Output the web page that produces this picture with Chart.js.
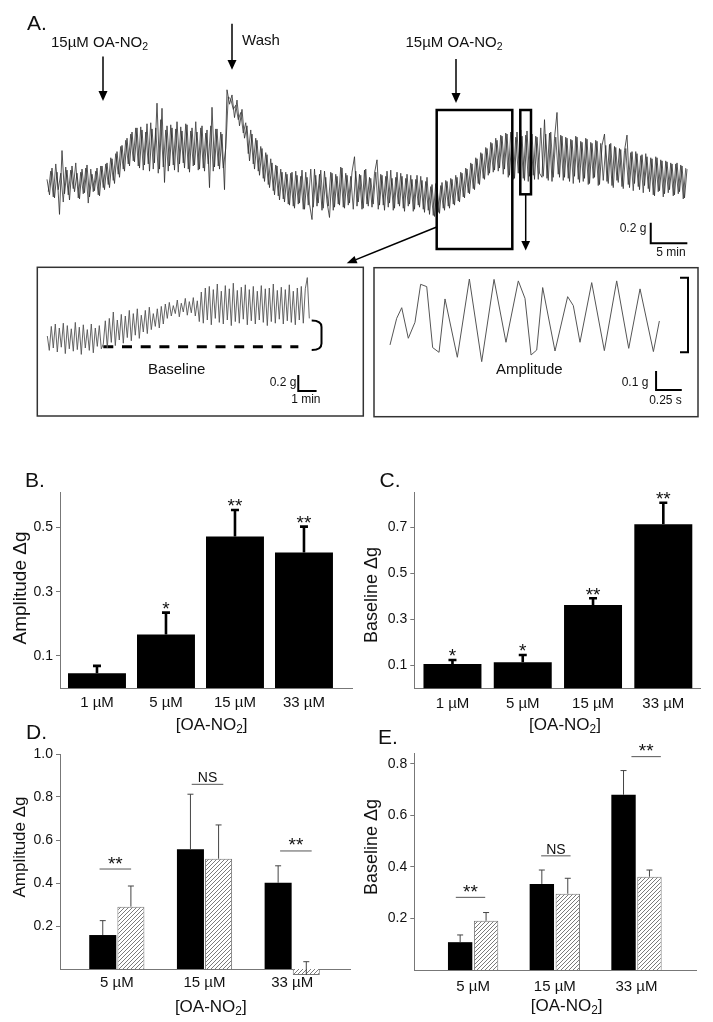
<!DOCTYPE html>
<html><head><meta charset="utf-8">
<script src="https://cdn.jsdelivr.net/npm/chart.js@4.4.0/dist/chart.umd.min.js"></script>
<style>
html,body{margin:0;padding:0;background:#fff;}
body{width:713px;height:1022px;position:relative;overflow:hidden;font-family:"Liberation Sans",Arial,sans-serif;color:#111;}
canvas{position:absolute;}
svg{position:absolute;left:0;top:0;}
.t{position:absolute;white-space:nowrap;line-height:1;transform:translate(-50%,-50%);}
.r{transform:translate(-50%,-50%) rotate(-90deg);}
sub{font-size:70%;vertical-align:-0.3em;line-height:0;}
</style></head><body>
<canvas id="cA" width="660" height="180" style="left:40px;top:80px"></canvas>
<canvas id="cI1" width="325" height="148" style="left:38px;top:268px"></canvas>
<canvas id="cI2" width="324" height="149" style="left:374px;top:268px"></canvas>
<canvas id="cB" width="360" height="255" style="left:0px;top:475px"></canvas>
<canvas id="cC" width="358" height="255" style="left:355px;top:475px"></canvas>
<canvas id="cD" width="360" height="282" style="left:0px;top:740px"></canvas>
<canvas id="cE" width="358" height="282" style="left:355px;top:740px"></canvas>

<svg width="713" height="1022" viewBox="0 0 713 1022">
 <g fill="none" stroke="#000">
  <rect x="436.7" y="110" width="75.6" height="139" stroke-width="2.5"/>
  <rect x="520.3" y="110" width="10.7" height="84.3" stroke-width="2.5"/>
  <rect x="37.3" y="267.3" width="326" height="148.7" stroke-width="1.5" stroke="#333"/>
  <rect x="374" y="267.7" width="324" height="149" stroke-width="1.5" stroke="#333"/>
  <line x1="103" y1="56.5" x2="103" y2="92" stroke-width="1.5"/>
  <line x1="232" y1="23.7" x2="232" y2="61" stroke-width="1.5"/>
  <line x1="456" y1="59" x2="456" y2="94" stroke-width="1.5"/>
  <line x1="525.7" y1="194.3" x2="525.7" y2="242" stroke-width="1.5"/>
  <line x1="436.7" y1="227" x2="356" y2="259.6" stroke-width="1.5"/>
  <path d="M311.7 320.5 Q321.5 320.5 321.5 327 L321.5 343.5 Q321.5 350 311.7 350" stroke-width="2"/>
  <path d="M680 277.7 H688 V352.3 H680" stroke-width="2"/>
 </g>
 <g fill="#000">
  <polygon points="98.5,91 107.5,91 103,101"/>
  <polygon points="227.5,60 236.5,60 232,69.7"/>
  <polygon points="451.5,93 460.5,93 456,103"/>
  <polygon points="521.3,241 530.1,241 525.7,250.5"/>
  <polygon points="346.7,263.3 357.5,263.3 354.5,255.9"/>
 </g>
</svg>

<div class="t" style="left:37px;top:22px;font-size:21px">A.</div>
<div class="t" style="left:99.5px;top:41px;font-size:15px">15µM OA-NO<sub>2</sub></div>
<div class="t" style="left:261px;top:38.5px;font-size:15px">Wash</div>
<div class="t" style="left:454px;top:41px;font-size:15px">15µM OA-NO<sub>2</sub></div>
<div class="t" style="left:633px;top:228px;font-size:12px">0.2 g</div>
<div class="t" style="left:671px;top:252px;font-size:12px">5 min</div>
<div class="t" style="left:176.7px;top:368.3px;font-size:15px">Baseline</div>
<div class="t" style="left:283px;top:381.7px;font-size:12px">0.2 g</div>
<div class="t" style="left:305.8px;top:399px;font-size:12px">1 min</div>
<div class="t" style="left:529.3px;top:367.7px;font-size:15px">Amplitude</div>
<div class="t" style="left:635px;top:381.7px;font-size:12px">0.1 g</div>
<div class="t" style="left:665.5px;top:399.5px;font-size:12px">0.25 s</div>

<div class="t" style="left:35px;top:479px;font-size:21px">B.</div>
<div class="t" style="left:390px;top:479px;font-size:21px">C.</div>
<div class="t" style="left:36.5px;top:730.5px;font-size:21px">D.</div>
<div class="t" style="left:388px;top:736px;font-size:21px">E.</div>
<div class="t r" style="left:19px;top:587.5px;font-size:19px">Amplitude Δg</div>
<div class="t r" style="left:370.5px;top:595px;font-size:18px">Baseline Δg</div>
<div class="t r" style="left:19px;top:846.7px;font-size:17px">Amplitude Δg</div>
<div class="t r" style="left:371px;top:846.5px;font-size:18px">Baseline Δg</div>
<div class="t" style="left:211.7px;top:724px;font-size:17px">[OA-NO<sub>2</sub>]</div>
<div class="t" style="left:565px;top:724px;font-size:17px">[OA-NO<sub>2</sub>]</div>
<div class="t" style="left:210.8px;top:1006px;font-size:17px">[OA-NO<sub>2</sub>]</div>
<div class="t" style="left:566.7px;top:1005px;font-size:17px">[OA-NO<sub>2</sub>]</div>

<script>
// ---------- data ----------
const concBC = ['1 µM', '5 µM', '15 µM', '33 µM'];
const ampB = [0.046, 0.167, 0.472, 0.422];
const ampBsem = [0.023, 0.068, 0.083, 0.081];
const ampBsig = ['', '*', '**', '**'];
const yTicksB = [0.1, 0.3, 0.5];

const baseC = [0.105, 0.113, 0.363, 0.714];
const baseCsem = [0.018, 0.032, 0.029, 0.094];
const baseCsig = ['*', '*', '**', '**'];
const yTicksC = [0.1, 0.3, 0.5, 0.7];

const concDE = ['5 µM', '15 µM', '33 µM'];
const ampDctl = [0.158, 0.557, 0.401];
const ampDctlSem = [0.067, 0.256, 0.079];
const ampDtrt = [0.290, 0.513, -0.028];
const ampDtrtSem = [0.096, 0.157, 0.062];
const sigD = ['**', 'NS', '**'];
const yTicksD = [0.2, 0.4, 0.6, 0.8, 1.0];

const baseEctl = [0.108, 0.334, 0.680];
const baseEctlSem = [0.028, 0.054, 0.094];
const baseEtrt = [0.191, 0.296, 0.362];
const baseEtrtSem = [0.032, 0.060, 0.026];
const sigE = ['**', 'NS', '**'];
const yTicksE = [0.2, 0.4, 0.6, 0.8];

// force trace (g), sampled every sampleMinMain minutes (two interleaved read-outs)
const sampleMinMain = 0.3415;
const traceMain = [
 0.20,0.05,0.31,0.02,0.27,-0.14,0.48,0.06,0.29,0.00,0.33,0.08,0.26,0.01,0.30,0.07,0.34,0.03,0.25,0.09,0.31,0.04,
 0.33,0.10,0.36,0.12,0.40,0.16,0.47,0.22,0.53,0.28,0.60,0.33,0.66,0.37,
 0.70,0.31,0.68,0.34,0.74,0.28,0.69,0.36,0.94,0.30,0.89,0.17,0.72,0.33,0.70,0.29,0.76,0.35,0.67,0.31,0.73,0.27,0.70,0.34,0.66,0.30,0.72,0.28,0.68,0.12,0.90,0.32,0.69,0.30,0.64,
 0.10,
 1.07,0.93,1.02,0.80,0.97,0.72,0.88,0.60,
 0.72,0.38,0.64,0.30,0.58,0.24,0.50,0.18,0.44,0.12,0.36,0.05,0.33,0.00,0.27,-0.02,0.25,
 -0.05,0.27,-0.08,0.24,-0.03,0.29,-0.09,0.22,-0.04,-0.19,0.30,-0.06,0.25,-0.10,0.28,-0.02,-0.17,0.26,-0.07,0.23,
 -0.05,0.31,-0.08,0.24,-0.03,0.27,0.42,-0.06,0.25,-0.09,0.29,-0.04,0.22,-0.07,0.26,0.39,-0.05,0.24,-0.10,0.28,
 -0.03,0.21,-0.08,0.27,-0.06,0.23,-0.11,0.25,-0.04,0.20,-0.09,0.24,-0.07,0.19,-0.12,0.22,
 -0.14,0.15,-0.16,0.12,-0.13,
 0.17,-0.10,0.18,-0.08,0.20,-0.05,0.22,-0.02,0.26,0.02,0.30,0.06,0.35,0.10,0.40,0.15,0.45,0.20,0.50,0.26,0.55,0.29,0.58,0.31,0.62,0.30,
 0.64,0.24,0.63,0.21,0.66,0.25,0.62,0.19,0.67,0.23,0.64,0.20,0.61,0.26,0.22,0.78,0.21,0.65,0.18,0.60,0.85,0.22,
 0.62,0.22,0.60,0.18,0.58,0.23,0.61,0.17,0.56,0.21,0.59,0.16,0.55,0.22,0.57,0.15,0.53,0.64,0.18,0.54,
 0.14,0.52,0.19,0.50,0.13,0.48,0.63,0.12,0.47,0.16,0.45,0.10,0.44,0.14,0.42,0.08,0.40,0.04,0.41,0.09,
 0.38,0.06,0.37,0.10,0.35,0.05,0.36,0.08,0.33,0.02,0.30
];
const traceMainMid = [
 0.08,0.28,0.03,0.35,0.10,0.26,-0.02,0.32,0.05,0.29,0.11,0.36,0.02,0.27,0.06,0.31,-0.03,0.30,0.08,0.28,0.05,0.33,
 0.12,0.35,0.15,0.41,0.19,0.45,0.25,0.52,0.30,0.58,0.35,0.64,0.38,0.70,
 0.33,0.71,0.29,0.66,0.35,0.75,0.30,0.70,0.26,0.78,0.32,0.68,0.28,0.73,0.34,0.69,0.27,0.71,0.36,0.74,0.30,0.67,0.33,0.76,0.29,0.70,0.31,0.65,0.35,0.72,0.28,0.69,0.33,0.66,0.31,
 0.50,
 1.00,0.98,0.88,0.92,0.78,0.85,0.65,0.75,
 0.45,0.68,0.35,0.60,0.28,0.52,0.21,0.46,0.15,0.40,0.09,0.34,0.04,0.30,0.01,0.27,-0.04,
 0.26,-0.06,0.28,-0.04,0.23,-0.09,0.27,-0.05,0.30,-0.07,0.24,-0.03,0.29,-0.08,0.22,-0.06,0.27,-0.10,0.25,-0.04,
 0.32,-0.07,0.26,-0.05,0.23,-0.09,0.28,-0.02,0.24,-0.08,0.30,-0.06,0.21,-0.04,0.27,-0.09,0.25,-0.05,0.23,-0.07,
 0.29,-0.10,0.22,-0.04,0.26,-0.08,0.21,-0.06,0.24,-0.11,0.20,-0.05,0.23,-0.09,0.18,-0.10,
 0.13,-0.15,0.16,-0.12,0.14,
 -0.08,0.19,-0.06,0.21,-0.04,0.24,-0.01,0.27,0.03,0.31,0.07,0.36,0.11,0.41,0.16,0.46,0.21,0.51,0.24,0.56,0.27,0.60,0.28,0.63,0.25,0.65,
 0.22,0.66,0.20,0.61,0.26,0.68,0.21,0.63,0.18,0.65,0.24,0.62,0.20,0.70,0.23,0.64,0.19,0.66,0.22,0.61,0.25,0.63,
 0.19,0.61,0.21,0.59,0.16,0.62,0.20,0.57,0.18,0.60,0.15,0.56,0.21,0.58,0.14,0.55,0.19,0.53,0.16,0.55,
 0.12,0.51,0.17,0.49,0.11,0.50,0.15,0.46,0.09,0.47,0.13,0.43,0.07,0.45,0.11,0.41,0.05,0.42,0.08,0.39,
 0.03,0.38,0.07,0.36,0.04,0.35,0.06,0.34,0.01,0.31
];

// baseline inset trace (g), every sampleMinBase minutes
const sampleMinBase = 0.1093;
const traceBase = [
 0.30,0.12,0.42,0.15,0.45,0.10,0.40,0.16,0.46,0.08,0.43,0.14,0.39,0.11,0.47,0.13,0.41,0.07,0.44,0.15,0.38,0.12,0.45,0.09,0.40,0.17,0.43,0.14,
 0.20,0.49,0.15,0.52,0.22,0.60,0.18,0.50,0.25,0.57,0.21,0.55,0.28,0.62,0.24,0.58,0.31,0.64,0.27,0.56,0.35,0.62,0.33,0.66,0.38,0.58,0.42,0.64,0.40,0.67,0.45,
 0.70,0.52,0.72,0.55,0.68,0.58,0.75,0.54,0.71,0.60,0.77,0.56,0.73,0.59,0.78,0.55,0.74,
 0.48,0.85,0.46,0.90,0.50,0.92,0.44,0.88,0.52,0.95,0.47,0.86,0.45,0.93,0.50,0.89,0.43,0.96,0.48,0.87,
 0.46,0.91,0.51,0.94,0.44,0.88,0.49,0.92,0.45,0.86,0.50,0.93,0.47,0.89,0.43,0.90,0.48,0.95,0.46,0.87,
 0.51,0.91,0.45,0.88,0.49,0.94,0.47,0.86,0.44,0.90,0.50,0.92,0.46,0.89,
 1.03,0.52
];
const baselineLevelG = 0.166;
const baselineFromMin = 3.06;
const baselineToMin = 13.72;

// amplitude inset trace
const ampTraceT = [0,0.065,0.114,0.178,0.243,0.298,0.357,0.415,0.477,0.535,0.655,0.772,0.892,1.012,1.128,1.248,1.313,1.372,1.427,1.485,1.605,1.728,1.783,1.848,1.962,2.085,2.205,2.322,2.432,2.562,2.620];
const ampTraceG = [0.123,0.263,0.319,0.158,0.242,0.442,0.430,0.109,0.084,0.365,0.058,0.470,0.035,0.468,0.137,0.460,0.368,0.070,0.096,0.425,0.091,0.377,0.330,0.137,0.451,0.093,0.460,0.105,0.418,0.088,0.249];

// ---------- setup ----------
Chart.defaults.font.family = '"Liberation Sans", Arial, sans-serif';
Chart.defaults.color = '#111';
const FONT = '"Liberation Sans", Arial, sans-serif';

function hatchPattern() {
  const c = document.createElement('canvas'); c.width = 4; c.height = 4;
  const x = c.getContext('2d');
  x.fillStyle = '#fff'; x.fillRect(0, 0, 4, 4);
  x.strokeStyle = '#7a7a7a'; x.lineWidth = 1;
  x.beginPath();
  x.moveTo(0, 4); x.lineTo(4, 0);
  x.moveTo(-1, 1); x.lineTo(1, -1);
  x.moveTo(3, 5); x.lineTo(5, 3);
  x.stroke();
  return x.createPattern(c, 'repeat');
}

const scaleBarPlugin = {
  id: 'scalebar',
  afterDatasetsDraw(chart, args, o) {
    if (!o || o.x0 === undefined) return;
    const xs = chart.scales.x, ys = chart.scales.y, ctx = chart.ctx;
    const px = xs.getPixelForValue(o.x0), py = ys.getPixelForValue(o.y0);
    const pxe = xs.getPixelForValue(o.x0 + o.dx), pyt = ys.getPixelForValue(o.y0 + o.dy);
    ctx.save();
    ctx.strokeStyle = '#000'; ctx.lineWidth = 2; ctx.lineCap = 'butt';
    ctx.beginPath(); ctx.moveTo(px, pyt); ctx.lineTo(px, py); ctx.lineTo(pxe, py); ctx.stroke();
    ctx.restore();
  }
};

const errPlugin = {
  id: 'errs',
  afterDatasetsDraw(chart, args, o) {
    const ctx = chart.ctx, ys = chart.scales.y, xs = chart.scales.x;
    ctx.save();
    chart.data.datasets.forEach((ds, di) => {
      const meta = chart.getDatasetMeta(di);
      meta.data.forEach((bar, j) => {
        const v = ds.data[j].y;
        const top = ys.getPixelForValue(v + ds.sem[j]);
        ctx.strokeStyle = o.color; ctx.lineWidth = o.width;
        ctx.beginPath();
        ctx.moveTo(bar.x, bar.y); ctx.lineTo(bar.x, top);
        ctx.moveTo(bar.x - o.cap / 2, top); ctx.lineTo(bar.x + o.cap / 2, top);
        ctx.stroke();
        if (ds.sig && ds.sig[j]) {
          ctx.fillStyle = '#111'; ctx.font = '19px ' + FONT;
          ctx.textAlign = 'center'; ctx.textBaseline = 'alphabetic';
          ctx.fillText(ds.sig[j], bar.x, top + 2.5);
        }
      });
    });
    (o.marks || []).forEach(m => {
      const cx = xs.getPixelForValue(m.x), y = ys.getPixelForValue(m.y);
      const x1 = xs.getPixelForValue(m.x - m.hw), x2 = xs.getPixelForValue(m.x + m.hw);
      ctx.strokeStyle = '#555'; ctx.lineWidth = 1;
      ctx.beginPath(); ctx.moveTo(x1, y); ctx.lineTo(x2, y); ctx.stroke();
      ctx.fillStyle = '#111'; ctx.textAlign = 'center'; ctx.textBaseline = 'alphabetic';
      if (m.text === 'NS') { ctx.font = '14px ' + FONT; ctx.fillText(m.text, cx, y - 2); }
      else { ctx.font = '19px ' + FONT; ctx.fillText(m.text, cx, y + 0.5); }
    });
    ctx.restore();
  }
};

function traceChart(id, datasets, pad, xr, yr, bar) {
  return new Chart(document.getElementById(id), {
    type: 'line',
    data: { datasets },
    options: {
      responsive: false, animation: false, devicePixelRatio: 1,
      layout: { padding: pad },
      elements: { point: { radius: 0 }, line: { tension: 0 } },
      scales: {
        x: { type: 'linear', display: false, min: xr[0], max: xr[1] },
        y: { display: false, min: yr[0], max: yr[1] }
      },
      plugins: { legend: { display: false }, tooltip: { enabled: false }, scalebar: bar }
    },
    plugins: [scaleBarPlugin]
  });
}

// A: main trace
traceChart('cA', [{
  data: traceMain.map((g, i) => ({ x: i * sampleMinMain, y: g })),
  borderColor: '#2b2b2b', borderWidth: 0.8, clip: false
}, {
  data: traceMainMid.map((g, i) => ({ x: (i + 0.5) * sampleMinMain, y: g })),
  borderColor: '#3a3a3a', borderWidth: 0.8, clip: false
}], { left: 7, right: 13, top: 5, bottom: 25 },
  [0, (traceMain.length - 1) * sampleMinMain], [-0.34, 1.1165],
  { x0: 82.47, y0: -0.4204, dx: 5, dy: 0.2 });

// inset 1: baseline
traceChart('cI1', [{
  data: traceBase.map((g, i) => ({ x: i * sampleMinBase, y: g })),
  borderColor: '#555', borderWidth: 0.9, clip: false
}, {
  data: [{ x: baselineFromMin, y: baselineLevelG }, { x: baselineToMin, y: baselineLevelG }],
  borderColor: '#000', borderWidth: 3, borderDash: [10, 8.7], clip: false
}], { left: 9.3, right: 53.7, top: 7.2, bottom: 20.8 },
  [0, (traceBase.length - 1) * sampleMinBase], [-0.44, 1.06],
  { x0: 13.716, y0: -0.3875, dx: 1, dy: 0.2 });

// inset 2: amplitude
traceChart('cI2', [{
  data: ampTraceT.map((t, i) => ({ x: t, y: ampTraceG[i] })),
  borderColor: '#555', borderWidth: 1, clip: false
}], { left: 16, right: 8, top: 5.3, bottom: 37.3 },
  [0, 2.918], [-0.06, 0.5],
  { x0: 2.588, y0: -0.1142, dx: 0.25, dy: 0.1 });

function barChart(id, cfg) {
  const datasets = cfg.series.map(s => ({
    data: s.values.map((v, i) => ({ x: i + 1, y: v })),
    backgroundColor: s.fill, borderColor: s.border || s.fill, borderWidth: s.bw || 0,
    categoryPercentage: cfg.catPct, barPercentage: cfg.barPct, clip: false,
    sem: s.sem, sig: s.sig
  }));
  return new Chart(document.getElementById(id), {
    type: 'bar',
    data: { datasets },
    options: {
      responsive: false, animation: false, devicePixelRatio: 1,
      layout: { padding: cfg.pad },
      plugins: { legend: { display: false }, tooltip: { enabled: false }, errs: cfg.errs },
      scales: {
        x: {
          type: 'linear', min: cfg.xr[0], max: cfg.xr[1], offset: false,
          afterBuildTicks: s => { s.ticks = cfg.cats.map((c, i) => ({ value: i + 1 })); },
          ticks: { callback: v => cfg.cats[Math.round(v) - 1], font: { size: 15 }, color: '#111', padding: cfg.xpad, autoSkip: false, maxRotation: 0 },
          grid: { display: false, drawTicks: false },
          border: { display: true, color: '#777', width: 1 },
          afterFit: s => { s.height = cfg.xh; }
        },
        y: {
          min: cfg.yr[0], max: cfg.yr[1],
          afterBuildTicks: s => { s.ticks = cfg.yticks.map(v => ({ value: v })); },
          ticks: { callback: v => Number(v).toFixed(1), font: { size: 14 }, color: '#111', padding: 3 },
          grid: { display: true, drawOnChartArea: false, drawTicks: true, tickLength: 4, color: '#777' },
          border: { display: true, color: '#777', width: 1 },
          afterFit: s => { s.width = cfg.yw; }
        }
      }
    },
    plugins: [errPlugin]
  });
}

const hatch = hatchPattern();

barChart('cB', {
  cats: concBC, series: [{ values: ampB, sem: ampBsem, sig: ampBsig, fill: '#000' }],
  catPct: 1, barPct: 0.84, xr: [0.464, 4.696], yr: [0, 0.6088], yticks: yTicksB,
  pad: { left: 0, right: 8, top: 17.7, bottom: 0 }, yw: 60, xh: 42, xpad: 6,
  errs: { color: '#000', width: 2.6, cap: 8 }
});

barChart('cC', {
  cats: concBC, series: [{ values: baseC, sem: baseCsem, sig: baseCsig, fill: '#000' }],
  catPct: 1, barPct: 0.825, xr: [0.457, 4.522], yr: [0, 0.852], yticks: yTicksC,
  pad: { left: 0, right: 13, top: 17.7, bottom: 0 }, yw: 59.3, xh: 41.8, xpad: 7,
  errs: { color: '#000', width: 2.6, cap: 8 }
});

barChart('cD', {
  cats: concDE, series: [
    { values: ampDctl, sem: ampDctlSem, fill: '#000' },
    { values: ampDtrt, sem: ampDtrtSem, fill: hatch, border: '#777', bw: 1 }
  ],
  catPct: 0.642, barPct: 0.96, xr: [0.352, 3.659], yr: [0, 1.0], yticks: yTicksD,
  pad: { left: 0, right: 10, top: 14, bottom: 0 }, yw: 60, xh: 53, xpad: 5.3,
  errs: { color: '#444', width: 1, cap: 6, marks: [
    { x: 0.983, y: 0.465, hw: 0.18, text: sigD[0] },
    { x: 2.034, y: 0.859, hw: 0.18, text: sigD[1] },
    { x: 3.042, y: 0.549, hw: 0.18, text: sigD[2] }
  ] }
});

barChart('cE', {
  cats: concDE, series: [
    { values: baseEctl, sem: baseEctlSem, fill: '#000' },
    { values: baseEtrt, sem: baseEtrtSem, fill: hatch, border: '#777', bw: 1 }
  ],
  catPct: 0.635, barPct: 0.94, xr: [0.28, 3.737], yr: [0, 0.841], yticks: yTicksE,
  pad: { left: 0, right: 16.3, top: 13.3, bottom: 0 }, yw: 59.3, xh: 52, xpad: 7.7,
  errs: { color: '#444', width: 1, cap: 6, marks: [
    { x: 0.968, y: 0.282, hw: 0.18, text: sigE[0] },
    { x: 2.013, y: 0.443, hw: 0.18, text: sigE[1] },
    { x: 3.118, y: 0.828, hw: 0.18, text: sigE[2] }
  ] }
});
</script>
</body></html>
